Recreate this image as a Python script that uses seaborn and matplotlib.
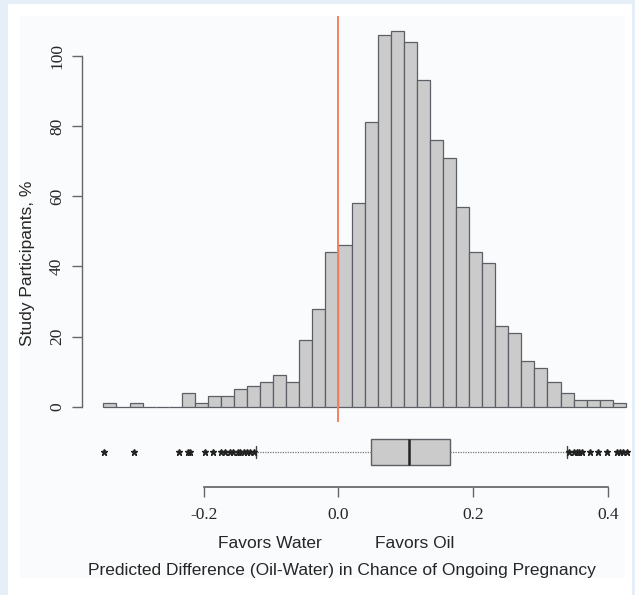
import numpy as np
import pandas as pd
import matplotlib
matplotlib.use("Agg")
import matplotlib.pyplot as plt
import seaborn as sns
from matplotlib.patches import Rectangle

# histogram counts, negative bins (left of 0) then positive bins
neg_counts = [1, 0, 1, 0, 0, 0, 4, 1, 3, 3, 5, 6, 7, 9, 7, 19, 28, 44]
pos_counts = [46, 58, 81, 106, 107, 104, 93, 76, 71, 57, 44, 41,
              23, 21, 13, 11, 7, 4, 2, 2, 2, 1]
bin_width = 0.0194

# box plot summary
q1, median, q3 = 0.048, 0.105, 0.166
whisker_lo, whisker_hi = -0.122, 0.339
outliers_low = [-0.349, -0.304, -0.237, -0.223, -0.220, -0.199, -0.186, -0.174,
                -0.168, -0.161, -0.156, -0.150, -0.146, -0.141, -0.136, -0.131, -0.126]
outliers_high = [0.343, 0.350, 0.354, 0.358, 0.362, 0.373, 0.385, 0.399,
                 0.413, 0.418, 0.423, 0.429]

y_ticks = [0, 20, 40, 60, 80, 100]
x_ticks = [-0.2, 0.0, 0.2, 0.4]
x_ticklabels = ["-0.2", "0.0", "0.2", "0.4"]

sns.set_theme(style="white")
plt.rcParams["font.family"] = ["Liberation Sans", "DejaVu Sans"]
SERIF = ["Liberation Serif", "DejaVu Serif"]

W, H = 635, 595
fig = plt.figure(figsize=(W / 100, H / 100), dpi=100, facecolor="#e6eef8")

# white panel + faint inner panel
fig.patches.append(Rectangle((8 / W, 0), 624 / W, 591 / H, transform=fig.transFigure,
                             facecolor="white", edgecolor="none", zorder=-2))
fig.patches.append(Rectangle((20 / W, (H - 578) / H), 605 / W, 562 / H,
                             transform=fig.transFigure, facecolor="#fafbfc",
                             edgecolor="none", zorder=-1))

xlim = (-0.381, 0.44)
left = 82 / W
width = (634.7 - 82) / W

# ---- histogram ----
ax = fig.add_axes([left, (H - 422) / H, width, 406 / H])
ax.patch.set_alpha(0)
counts = neg_counts + pos_counts
edges = bin_width * np.arange(-len(neg_counts), len(pos_counts) + 1)
centers = (edges[:-1] + edges[1:]) / 2
hist_df = pd.DataFrame({"diff": centers, "count": counts})
sns.histplot(data=hist_df, x="diff", weights="count", bins=list(edges), ax=ax,
             color="#cbcbcb", edgecolor="#5c5f66", linewidth=0.9, alpha=1)
ax.axvline(0, color="#f2805f", linewidth=1.4, zorder=5)
ax.set_xlim(*xlim)
ax.set_ylim(-4.28, 111.28)
for s in ["top", "right", "bottom"]:
    ax.spines[s].set_visible(False)
ax.spines["left"].set_bounds(0, 100)
ax.spines["left"].set_color("#666666")
ax.spines["left"].set_linewidth(1.0)
ax.set_yticks(y_ticks)
ax.set_yticklabels([str(v) for v in y_ticks], rotation=90, va="center",
                   family=SERIF, fontsize=12.5)
ax.tick_params(axis="y", direction="out", length=7.2, width=1.0, color="#666666",
               pad=5, left=True)
ax.set_xticks([])
ax.set_xlabel("")
ax.set_ylabel("")

# ---- box plot ----
bax = fig.add_axes([left, (H - 487.3) / H, width, 62.3 / H])
bax.patch.set_alpha(0)
stats = [dict(med=median, q1=q1, q3=q3, whislo=whisker_lo, whishi=whisker_hi,
              fliers=np.array(outliers_low + outliers_high))]
bax.bxp(stats, positions=[0.567], widths=[0.417], orientation="horizontal",
        patch_artist=True, showfliers=True, capwidths=[0.2],
        boxprops=dict(facecolor="#cbcbcb", edgecolor="#5c5f66", linewidth=1.0),
        medianprops=dict(color="#222222", linewidth=1.8),
        whiskerprops=dict(color="#777777", linestyle=(0, (1, 1)), linewidth=0.9),
        capprops=dict(color="#444444", linewidth=1.0),
        flierprops=dict(marker="*", markersize=4.8, markerfacecolor="#222222",
                        markeredgecolor="#222222", linestyle="none"))
bax.set_xlim(*xlim)
bax.set_ylim(0, 1)
for s in ["top", "right", "left"]:
    bax.spines[s].set_visible(False)
bax.spines["bottom"].set_bounds(-0.2, 0.4)
bax.spines["bottom"].set_color("#666666")
bax.set_yticks([])
bax.set_xticks(x_ticks)
bax.set_xticklabels(x_ticklabels, family=SERIF, fontsize=12.5)
bax.tick_params(axis="x", direction="out", length=7, width=1.0, color="#666666",
                pad=7, bottom=True)

# ---- labels ----
fig.text(28 / W, (H - 263) / H, "Study Participants, %", rotation=90,
         ha="center", va="center", fontsize=12.5)
fig.text(270 / W, (H - 543) / H, "Favors Water", ha="center", va="center", fontsize=12.5)
fig.text(415 / W, (H - 543) / H, "Favors Oil", ha="center", va="center", fontsize=12.5)
fig.text(342 / W, (H - 571) / H,
         "Predicted Difference (Oil-Water) in Chance of Ongoing Pregnancy",
         ha="center", va="center", fontsize=12.5)

fig.savefig("out.png", dpi=100, facecolor=fig.get_facecolor())
